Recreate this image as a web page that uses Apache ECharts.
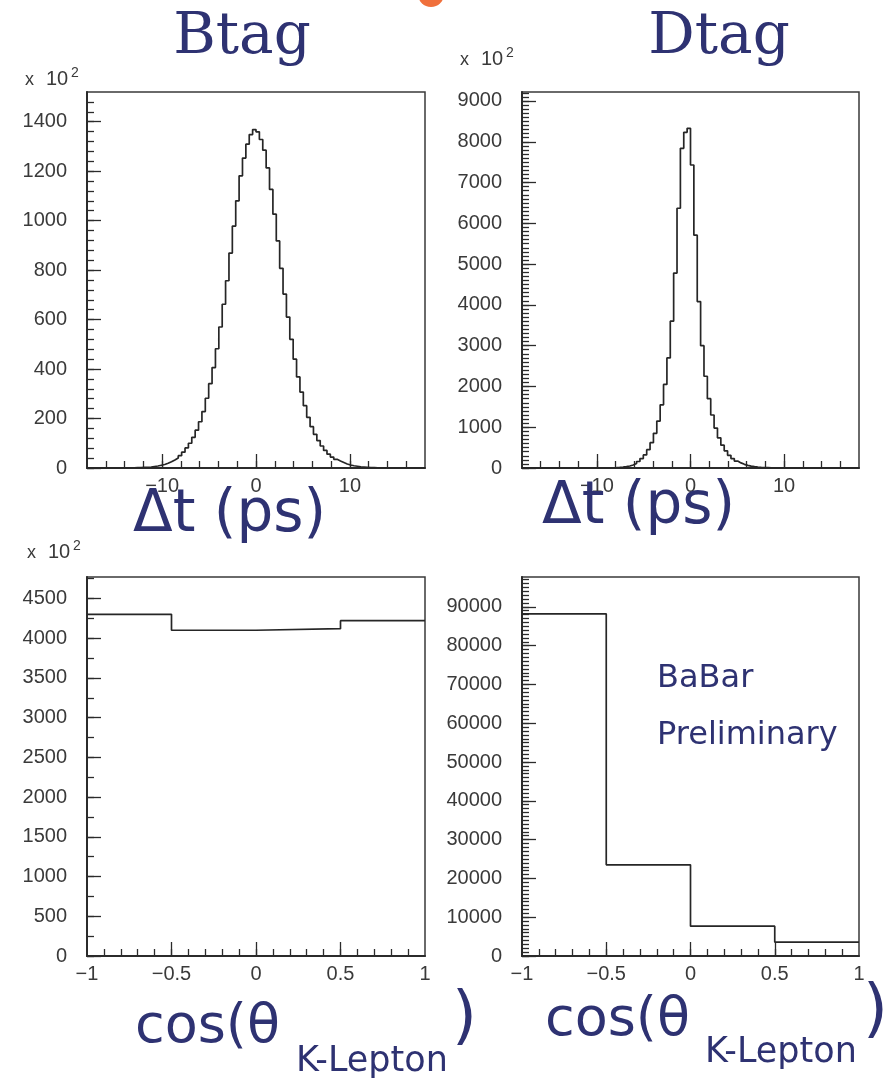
<!DOCTYPE html>
<html>
<head>
<meta charset="utf-8">
<script src="https://cdn.jsdelivr.net/npm/echarts@6/dist/echarts.min.js"></script>
<style>
html,body{margin:0;padding:0;background:#fff;}
#chart{width:884px;height:1086px;}
</style>
</head>
<body>
<div id="chart"></div>
<script>
// delta t histograms: 100 bins between -18 and 18 ps
var dtLow = -18, dtHigh = 18, dtBinWidth = 0.36;
var btagDt = [
	0,0,0,0,0,0,0,0,0,0,
	1,1,1,1,2,2,3,3,4,6,
	8,11,14,19,25,32,40,50,64,81,
	100,124,153,187,228,282,341,406,482,570,
	662,757,869,978,1080,1181,1253,1309,1348,1368,
	1359,1328,1285,1213,1126,1026,918,807,703,610,
	520,440,368,307,252,205,167,136,111,89,
	71,56,44,35,28,22,16,12,9,7,
	5,4,3,2,2,1,1,1,0,0,
	0,0,0,0,0,0,0,0,0,0
];
var dtagDt = [
	0,0,0,0,0,0,0,0,0,0,
	0,0,0,0,0,0,0,0,0,0,
	0,0,1,2,3,4,6,9,14,22,
	33,50,75,110,160,230,320,450,620,850,
	1150,1550,2050,2700,3600,4780,6370,7840,8230,8330,
	7430,5710,4080,3000,2250,1700,1300,980,740,560,
	420,310,230,170,125,90,65,46,33,23,
	16,11,8,5,3,2,1,0,0,0,
	0,0,0,0,0,0,0,0,0,0,
	0,0,0,0,0,0,0,0,0,0
];
// cos(theta K-lepton): 4 bins
var cosEdges = [-1, -0.5, 0, 0.5, 1];
var btagCos = [4300, 4100, 4120, 4220];
var dtagCos = [88200, 23500, 7700, 3600];

// tick labels
var dtLabels = [-10, 0, 10];
var cosLabels = [-1, -0.5, 0, 0.5, 1];
var btagDtYLabels = [0, 200, 400, 600, 800, 1000, 1200, 1400];
var dtagDtYLabels = [0, 1000, 2000, 3000, 4000, 5000, 6000, 7000, 8000, 9000];
var btagCosYLabels = [0, 500, 1000, 1500, 2000, 2500, 3000, 3500, 4000, 4500];
var dtagCosYLabels = [0, 10000, 20000, 30000, 40000, 50000, 60000, 70000, 80000, 90000];

var INK = '#2e3272';
var AXIS = '#2b2b2b';
var LABEL = '#3a3a3a';

function range(a, b, step){
	var out = [];
	for(var v = a; v <= b + step * 1e-6; v += step){
		out.push(Math.round(v * 1000) / 1000);
	}
	return out;
}
//plain numbers, real minus sign, no thousands separator
function fmt(v){
	return String(v).replace('-', '\u2212');
}
function hist(edges, counts){
	var pts = [];
	for(var i = 0; i < counts.length; i++){
		pts.push([edges[i], counts[i]]);
	}
	pts.push([edges[counts.length], counts[counts.length - 1]]);
	return pts;
}
function $ext(a, b){
	var o = {}, k;
	for(k in a) o[k] = a[k];
	for(k in b) o[k] = b[k];
	return o;
}

var dtEdges = range(dtLow, dtHigh, dtBinWidth);

var grids = [], xAxes = [], yAxes = [], series = [];

function addPanel(p){
	var gi = grids.length;
	grids.push({
		left: p.left, top: p.top, width: p.width, height: p.height,
		show: true, borderColor: '#3a3a3a', borderWidth: 1.5,
		containLabel: false, outerBoundsMode: 'none'
	});
	var lbl = {color: LABEL, fontSize: 20, fontFamily: '"Liberation Sans", Arial, sans-serif', formatter: fmt};
	// x: short ticks + labels
	xAxes.push({
		gridIndex: gi, type: 'value', min: p.xMin, max: p.xMax, position: 'bottom',
		axisLine: {show: true, onZero: false, lineStyle: {color: AXIS, width: 2}},
		axisTick: {show: true, inside: true, length: 7, customValues: p.xMinor, lineStyle: {color: AXIS, width: 1.3}},
		axisLabel: $ext(lbl, {show: true, margin: 8, customValues: p.xLabels}),
		splitLine: {show: false}
	});
	// x: long ticks
	xAxes.push({
		gridIndex: gi, type: 'value', min: p.xMin, max: p.xMax, position: 'bottom',
		axisLine: {show: false, onZero: false},
		axisTick: {show: true, inside: true, length: 14, customValues: p.xMajor, lineStyle: {color: AXIS, width: 1.3}},
		axisLabel: {show: false},
		splitLine: {show: false}
	});
	yAxes.push({
		gridIndex: gi, type: 'value', min: 0, max: p.yMax, position: 'left',
		axisLine: {show: true, onZero: false, lineStyle: {color: AXIS, width: 2}},
		axisTick: {show: true, inside: true, length: 7, customValues: p.yMinor, lineStyle: {color: AXIS, width: 1.3}},
		axisLabel: $ext(lbl, {show: true, margin: 20, customValues: p.yLabels}),
		splitLine: {show: false}
	});
	yAxes.push({
		gridIndex: gi, type: 'value', min: 0, max: p.yMax, position: 'left',
		axisLine: {show: false, onZero: false},
		axisTick: {show: true, inside: true, length: 14, customValues: p.yLabels, lineStyle: {color: AXIS, width: 1.3}},
		axisLabel: {show: false},
		splitLine: {show: false}
	});
	series.push({
		type: 'line', step: 'end', symbol: 'none', silent: true, animation: false,
		xAxisIndex: 2 * gi, yAxisIndex: 2 * gi,
		data: p.data,
		lineStyle: {color: '#262626', width: 1.7}
	});
}

addPanel({left: 87, top: 92, width: 338, height: 376, xMin: dtLow, xMax: dtHigh, yMax: 1520,
	xLabels: dtLabels, xMajor: [-10, 0, 10], xMinor: range(-16, 16, 2),
	yLabels: btagDtYLabels, yMinor: range(0, 1480, 40), data: hist(dtEdges, btagDt)});
addPanel({left: 522, top: 92, width: 337, height: 376, xMin: dtLow, xMax: dtHigh, yMax: 9220,
	xLabels: dtLabels, xMajor: [-10, 0, 10], xMinor: range(-16, 16, 2),
	yLabels: dtagDtYLabels, yMinor: range(0, 9200, 100), data: hist(dtEdges, dtagDt)});
addPanel({left: 87, top: 577, width: 338, height: 379, xMin: -1, xMax: 1, yMax: 4770,
	xLabels: cosLabels, xMajor: [-0.5, 0, 0.5], xMinor: range(-0.9, 0.9, 0.1),
	yLabels: btagCosYLabels, yMinor: range(0, 4750, 250), data: hist(cosEdges, btagCos)});
addPanel({left: 522, top: 577, width: 337, height: 379, xMin: -1, xMax: 1, yMax: 97700,
	xLabels: cosLabels, xMajor: [-0.5, 0, 0.5], xMinor: range(-0.9, 0.9, 0.1),
	yLabels: dtagCosYLabels, yMinor: range(0, 97000, 1000), data: hist(cosEdges, dtagCos)});

// free text, placed by baseline
function txt(x, base, text, size, family, align, color){
	return {
		type: 'text', x: x, y: base - 0.3 * size, z: 100, silent: true,
		style: {
			text: text, fill: color || INK,
			font: 'normal ' + size + 'px ' + family,
			textAlign: align || 'left', textVerticalAlign: 'middle'
		}
	};
}
var HAND = '"DejaVu Sans", sans-serif';
var SERIF = '"DejaVu Serif", serif';
var SANS = '"Liberation Sans", Arial, sans-serif';
function power(x, base){
	return [
		txt(x, base, 'x', 18, SANS, 'left', LABEL),
		txt(x + 21, base, '10', 20, SANS, 'left', LABEL),
		txt(x + 46, base - 8, '2', 14, SANS, 'left', LABEL)
	];
}

var graphics = [
	{type: 'circle', shape: {cx: 431, cy: -6, r: 13}, style: {fill: '#f0703c'}, silent: true},
	txt(242, 55, 'Btag', 58, SERIF, 'center'),
	txt(719, 55, 'Dtag', 58, SERIF, 'center'),
	txt(133, 533, '\u0394t (ps)', 58, HAND),
	txt(542, 525, '\u0394t (ps)', 58, HAND),
	txt(135, 1044, 'cos(\u03b8', 54, HAND),
	txt(296, 1072, 'K-Lepton', 35, HAND),
	txt(452, 1040, ')', 64, HAND),
	txt(545, 1037, 'cos(\u03b8', 54, HAND),
	txt(705, 1063, 'K-Lepton', 35, HAND),
	txt(863, 1033, ')', 64, HAND),
	txt(657, 688, 'BaBar', 32, HAND),
	txt(657, 745, 'Preliminary', 32, HAND)
].concat(power(25, 85), power(460, 65), power(27, 558));

var chart = echarts.init(document.getElementById('chart'));
chart.setOption({
	backgroundColor: '#ffffff',
	animation: false,
	grid: grids,
	xAxis: xAxes,
	yAxis: yAxes,
	series: series,
	graphic: graphics
});
</script>
</body>
</html>
